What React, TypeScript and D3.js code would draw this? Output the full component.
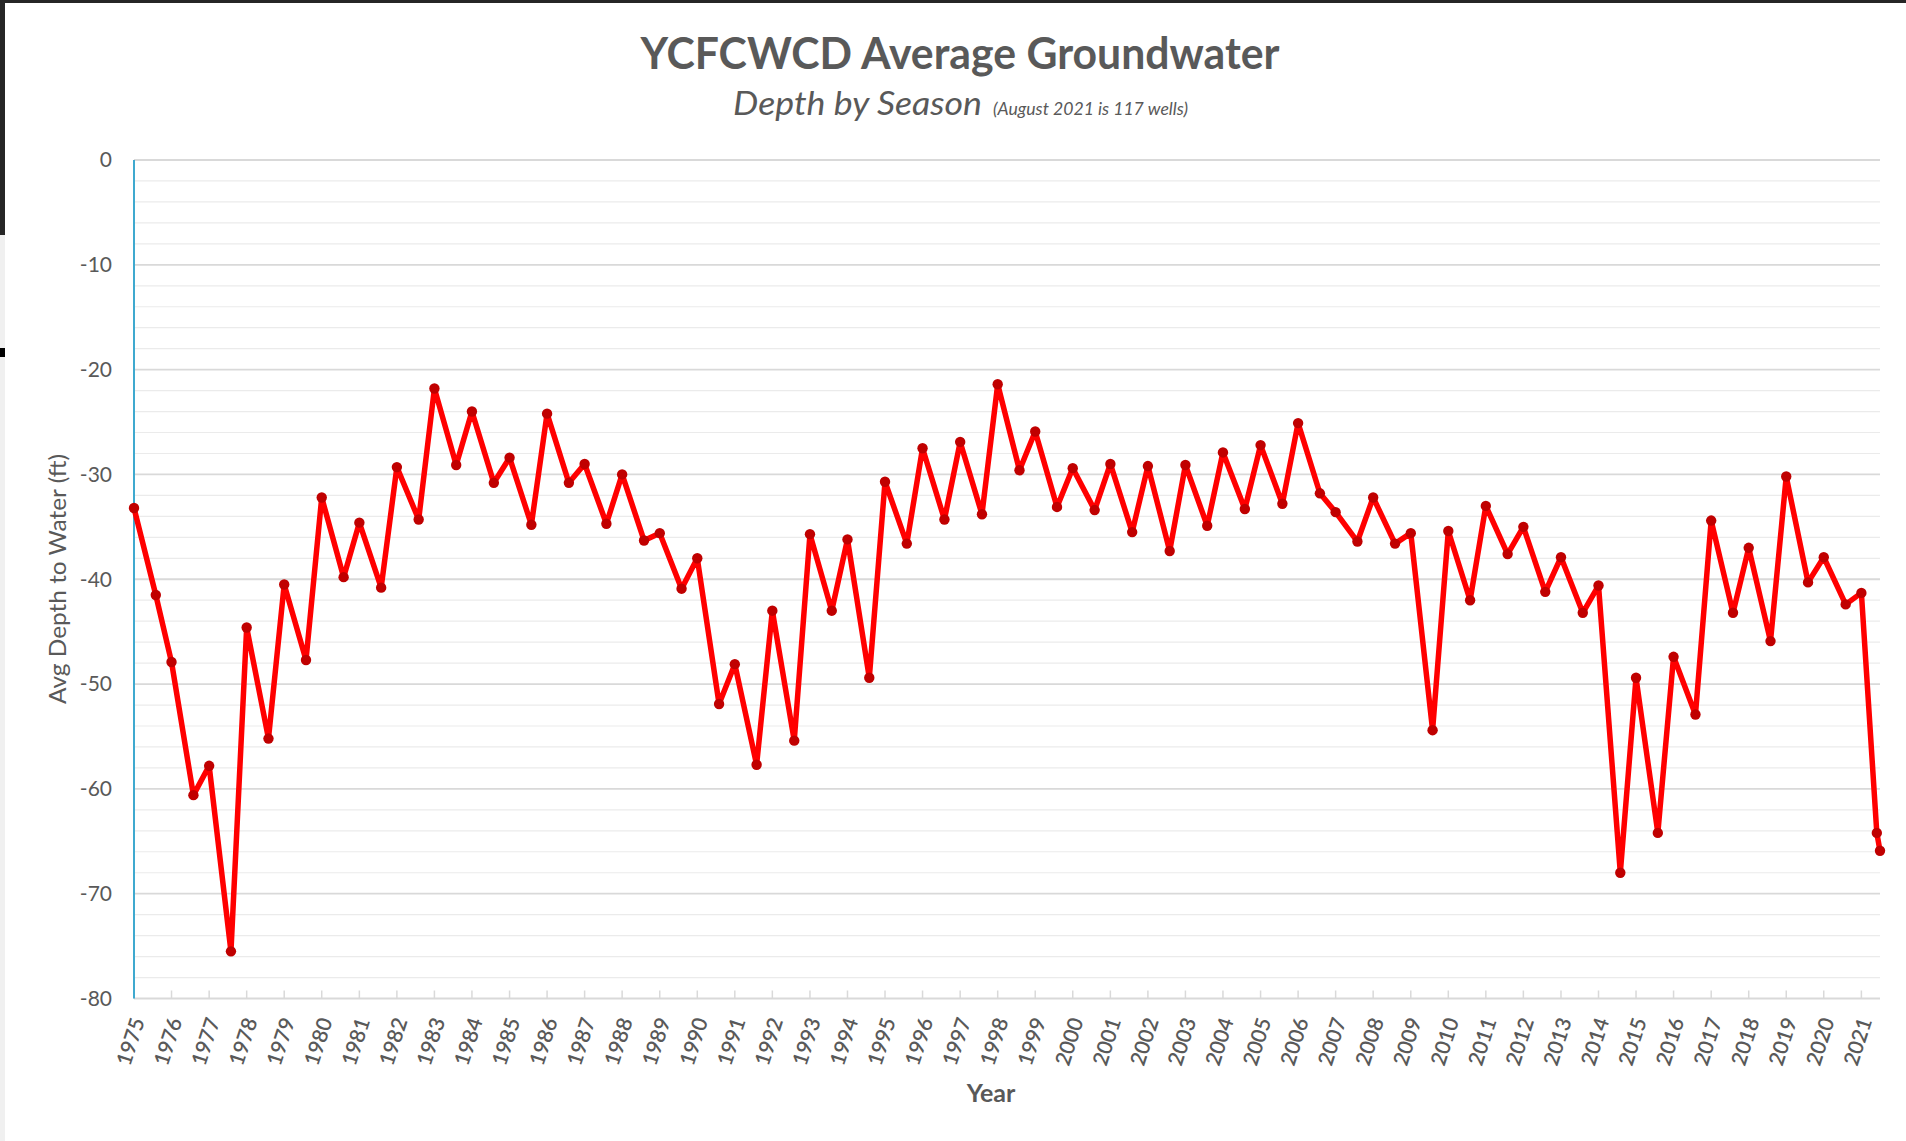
import React from "react";
import * as d3 from "d3";

// ---------- data ----------
const years = [
  1975, 1976, 1977, 1978, 1979, 1980, 1981, 1982, 1983, 1984, 1985, 1986,
  1987, 1988, 1989, 1990, 1991, 1992, 1993, 1994, 1995, 1996, 1997, 1998,
  1999, 2000, 2001, 2002, 2003, 2004, 2005, 2006, 2007, 2008, 2009, 2010,
  2011, 2012, 2013, 2014, 2015, 2016, 2017, 2018, 2019, 2020, 2021,
];

// spring measurement (February) for every year 1975-2021
const springDepth = [
  -33.2, -47.9, -57.8, -44.6, -40.5, -32.2, -34.6, -29.3, -21.8, -24.0, -28.4, -24.2,
  -29.0, -30.0, -35.6, -38.0, -48.1, -43.0, -35.7, -36.2, -30.7, -27.5, -26.9, -21.4,
  -25.9, -29.4, -29.0, -29.2, -29.1, -27.9, -27.2, -25.1, -33.6, -32.2, -35.6, -35.4,
  -33.0, -35.0, -37.9, -40.6, -49.4, -47.4, -34.4, -37.0, -30.2, -37.9, -41.3,
];

// fall measurement (September) for 1975-2020
const fallDepth = [
  -41.5, -60.6, -75.5, -55.2, -47.7, -39.8, -40.8, -34.3, -29.1, -30.8, -34.8, -30.8,
  -34.7, -36.3, -40.9, -51.9, -57.7, -55.4, -43.0, -49.4, -36.6, -34.3, -33.8, -29.6,
  -33.1, -33.4, -35.5, -37.3, -34.9, -33.3, -32.8, -31.8, -36.4, -36.6, -54.4, -42.0,
  -37.6, -41.2, -43.2, -68.0, -64.2, -52.9, -43.2, -45.9, -40.3, -42.4,
];

// extra 2021 summer readings
const summer2021Months = ["2021-07", "2021-08"];
const summer2021Depth = [-64.2, -65.9];

const yTicks = [0, -10, -20, -30, -40, -50, -60, -70, -80];
const minorTicks = [-2, -4, -6, -8, -12, -14, -16, -18, -22, -24, -26, -28, -32, -34, -36, -38,
  -42, -44, -46, -48, -52, -54, -56, -58, -62, -64, -66, -68, -72, -74, -76, -78];

const SPRING_MONTH = 1; // Feb
const FALL_MONTH = 8; // Sep

type Pt = { date: Date; depth: number };

function buildSeries(): Pt[] {
  const pts: Pt[] = [];
  years.forEach((y, i) => {
    pts.push({ date: new Date(y, SPRING_MONTH, 1), depth: springDepth[i] });
    if (i < fallDepth.length) pts.push({ date: new Date(y, FALL_MONTH, 1), depth: fallDepth[i] });
  });
  summer2021Months.forEach((m, i) => {
    const [yy, mm] = m.split("-").map(Number);
    pts.push({ date: new Date(yy, mm - 1, 1), depth: summer2021Depth[i] });
  });
  return pts;
}

const W = 1906;
const H = 1141;
const PLOT = { left: 134, right: 1880, top: 160, bottom: 998.5 };
const TXT = "#595959";
const FONT = "Lato, 'Open Sans', sans-serif";

export default function App() {
  const data = buildSeries();
  const x = d3
    .scaleTime()
    .domain([data[0].date, data[data.length - 1].date])
    .range([PLOT.left, PLOT.right]);
  const y = d3.scaleLinear().domain([-80, 0]).range([PLOT.bottom, PLOT.top]);
  const line = d3
    .line<Pt>()
    .x((d) => x(d.date))
    .y((d) => y(d.depth));
  const fmt = d3.timeFormat("%Y");
  const tickDates = years.map((yr) => new Date(yr, SPRING_MONTH, 1));

  return (
    <svg
      width={W}
      height={H}
      style={{ position: "absolute", left: 0, top: 0, display: "block" }}
      fontFamily={FONT}
    >
      <rect x={0} y={0} width={W} height={H} fill="#ffffff" />
      {/* frame remnants */}
      <rect x={0} y={0} width={W} height={3} fill="#262626" />
      <rect x={0} y={0} width={5} height={235} fill="#262626" />
      <rect x={0} y={235} width={5} height={H - 235} fill="#f0f0f0" />
      <rect x={0} y={348} width={5} height={9} fill="#000000" />

      {/* titles */}
      <text x={960} y={69} textAnchor="middle" fontSize={43} fontWeight="bold" fill={TXT}
        textLength={639} lengthAdjust="spacingAndGlyphs">
        YCFCWCD Average Groundwater
      </text>
      <text x={733} y={115} fontSize={32} fontStyle="italic" fill={TXT}
        textLength={249} lengthAdjust="spacingAndGlyphs">
        Depth by Season
      </text>
      <text x={993} y={115} fontSize={17} fontStyle="italic" fill={TXT}
        textLength={195} lengthAdjust="spacingAndGlyphs">
        (August 2021 is 117 wells)
      </text>

      {/* gridlines */}
      {minorTicks.map((t) => (
        <line key={"m" + t} x1={PLOT.left} x2={PLOT.right} y1={y(t)} y2={y(t)} stroke="#ebebeb" strokeWidth={1.2} />
      ))}
      {yTicks.filter((t) => t !== -80).map((t) => (
        <line key={"g" + t} x1={PLOT.left} x2={PLOT.right} y1={y(t)} y2={y(t)} stroke="#d9d9d9" strokeWidth={1.8} />
      ))}

      {/* x axis */}
      <line x1={PLOT.left} x2={PLOT.right} y1={PLOT.bottom} y2={PLOT.bottom} stroke="#d9d9d9" strokeWidth={2} />
      {tickDates.map((d) => (
        <line key={"t" + d.getFullYear()} x1={x(d)} x2={x(d)} y1={PLOT.bottom - 8} y2={PLOT.bottom}
          stroke="#d9d9d9" strokeWidth={1.5} />
      ))}
      {tickDates.map((d) => (
        <text key={"l" + d.getFullYear()}
          transform={`translate(${x(d) + 4},${PLOT.bottom + 20}) rotate(-72)`}
          textAnchor="end" dy="0.35em" fontSize={21} fill={TXT} fontWeight={600}>
          {fmt(d)}
        </text>
      ))}

      {/* y axis */}
      <line x1={PLOT.left} x2={PLOT.left} y1={PLOT.top} y2={PLOT.bottom} stroke="#3fa9cf" strokeWidth={2} />
      {yTicks.map((t) => (
        <text key={"y" + t} x={112} y={y(t)} dy="0.35em" textAnchor="end" fontSize={21} fill={TXT}>
          {t}
        </text>
      ))}

      {/* axis titles */}
      <text transform={`translate(66,579) rotate(-90)`} textAnchor="middle" fontSize={24} fill={TXT}
        textLength={250} lengthAdjust="spacingAndGlyphs">
        Avg Depth to Water (ft)
      </text>
      <text x={991} y={1102} textAnchor="middle" fontSize={25} fontWeight="bold" fill={TXT}>
        Year
      </text>

      {/* series */}
      <path d={line(data) || ""} fill="none" stroke="#ff0000" strokeWidth={5.5} strokeLinejoin="round" />
      {data.map((d, i) => (
        <circle key={"c" + i} cx={x(d.date)} cy={y(d.depth)} r={5.2} fill="#c00000" />
      ))}
    </svg>
  );
}
